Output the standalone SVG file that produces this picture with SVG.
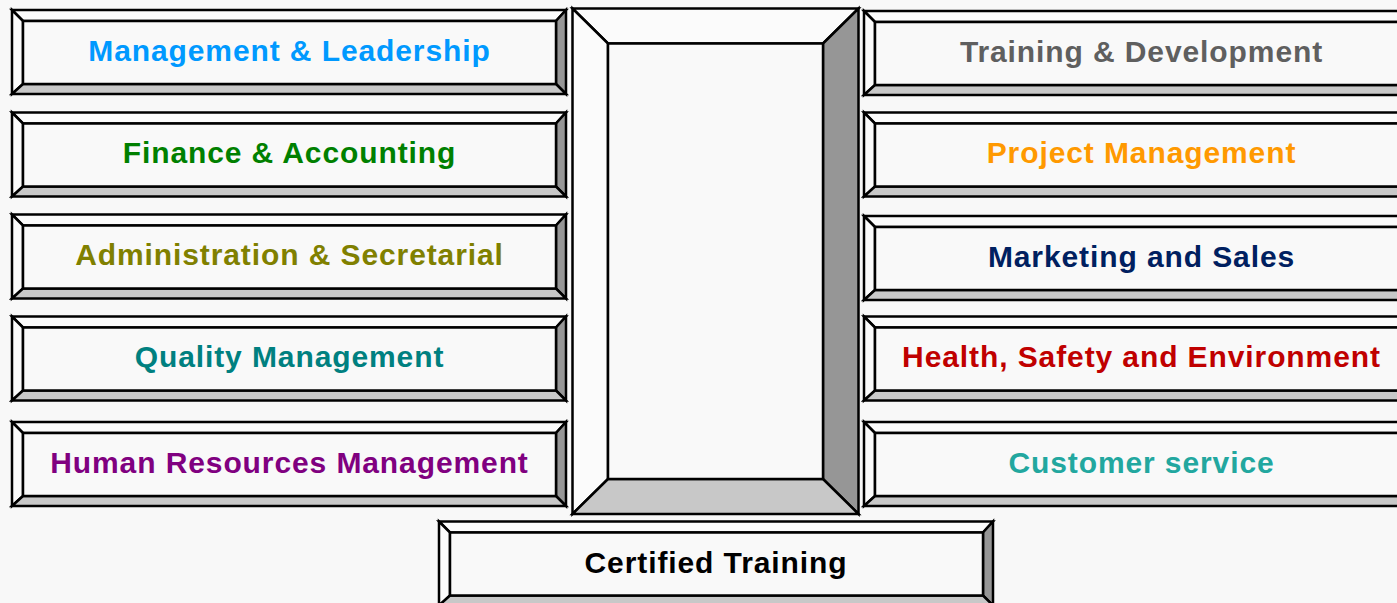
<svg xmlns="http://www.w3.org/2000/svg" width="1397" height="603" viewBox="0 0 1397 603">
<style>
.lt{fill:#fbfbfb;stroke:#000;stroke-width:2.5;stroke-linejoin:miter}
.rt{fill:#969696;stroke:#000;stroke-width:2.5;stroke-linejoin:miter}
.bt{fill:#c8c8c8;stroke:#000;stroke-width:2.5;stroke-linejoin:miter}
.in{fill:#f9f9f9;stroke:#000;stroke-width:2.5}
.lbl{font-family:"Liberation Sans",Arial,sans-serif;font-weight:bold;font-size:30px;letter-spacing:0.9px;text-anchor:middle}
</style>
<defs>
<g id="bevL">
<polygon class="lt" points="12,0 566,0 556,11 23,11"/>
<polygon class="lt" points="12,0 23,11 23,74 12,84"/>
<polygon class="rt" points="566,0 566,84 556,74 556,11"/>
<polygon class="bt" points="12,84 23,74 556,74 566,84"/>
<rect class="in" x="23" y="11" width="533" height="63"/>
</g>
</defs>
<rect width="1397" height="603" fill="#f8f8f8"/>

<g id="management">
<use href="#bevL" y="10"/>
<text class="lbl" x="289.5" y="60.5" fill="#0099ff">Management &amp; Leadership</text>
</g>
<g id="finance">
<use href="#bevL" y="112.5"/>
<text class="lbl" x="289.5" y="163" fill="#008000">Finance &amp; Accounting</text>
</g>
<g id="administration">
<use href="#bevL" y="214.5"/>
<text class="lbl" x="289.5" y="265" fill="#808000">Administration &amp; Secretarial</text>
</g>
<g id="quality">
<use href="#bevL" y="316.5"/>
<text class="lbl" x="289.5" y="367" fill="#008080">Quality Management</text>
</g>
<g id="hr">
<use href="#bevL" y="422"/>
<text class="lbl" x="289.5" y="473" fill="#800080">Human Resources Management</text>
</g>

<g id="training">
<use href="#bevL" x="852" y="11"/>
<text class="lbl" x="1141.5" y="61.5" fill="#5f5f5f">Training &amp; Development</text>
</g>
<g id="project">
<use href="#bevL" x="852" y="112.5"/>
<text class="lbl" x="1141.5" y="163" fill="#ff9900">Project Management</text>
</g>
<g id="marketing">
<use href="#bevL" x="852" y="216"/>
<text class="lbl" x="1141.5" y="267" fill="#002060">Marketing and Sales</text>
</g>
<g id="health">
<use href="#bevL" x="852" y="316.5"/>
<text class="lbl" x="1141.5" y="367" fill="#c00000">Health, Safety and Environment</text>
</g>
<g id="customer">
<use href="#bevL" x="852" y="422"/>
<text class="lbl" x="1141.5" y="473" fill="#22a79f">Customer service</text>
</g>

<g id="center">
<polygon class="lt" points="572.5,8.5 858.5,8.5 823,43.5 608,43.5"/>
<polygon class="lt" points="572.5,8.5 608,43.5 608,479 572.5,514"/>
<polygon class="rt" points="858.5,8.5 858.5,514 823,479 823,43.5"/>
<polygon class="bt" points="572.5,514 608,479 823,479 858.5,514"/>
<rect class="in" x="608" y="43.5" width="215" height="435.5"/>
</g>

<g id="certified">
<use href="#bevL" x="427" y="521.5"/>
<text class="lbl" x="716" y="572.5" fill="#000000">Certified Training</text>
</g>

<g id="connectors"></g>
</svg>
